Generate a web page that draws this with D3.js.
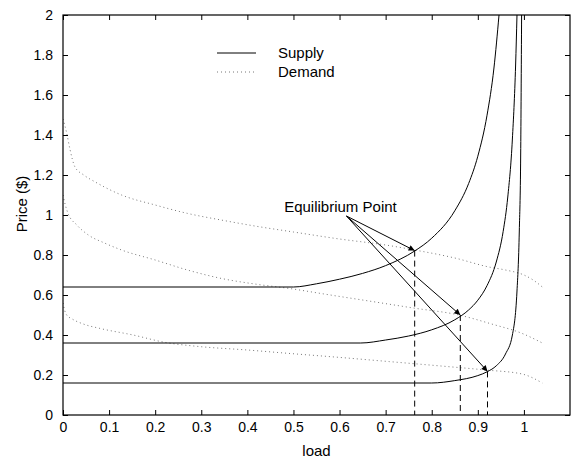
<!DOCTYPE html>
<html>
<head>
<meta charset="utf-8">
<script src="https://cdn.jsdelivr.net/npm/d3@7/dist/d3.min.js"></script>
<style>
  body { margin: 0; background: #fff; }
  svg { display: block; font-family: "Liberation Sans", Arial, sans-serif; }
</style>
</head>
<body>
<svg id="chart" width="575" height="460"></svg>
<script>
// supply curves: flat price, then blowing up near full load
const supplyHigh = [[0, 0.64], [0.5, 0.64], [0.55, 0.656], [0.6, 0.679], [0.65, 0.708], [0.7, 0.747],
  [0.763, 0.82], [0.8, 0.884], [0.85, 1.021], [0.88, 1.157], [0.9, 1.294], [0.92, 1.499], [0.935, 1.735], [0.946, 2.0]];
const supplyMid = [[0, 0.36], [0.646, 0.36], [0.7, 0.375], [0.75, 0.395], [0.8, 0.426], [0.85, 0.476],
  [0.88, 0.525], [0.9, 0.574], [0.92, 0.647], [0.94, 0.765], [0.955, 0.918], [0.965, 1.09], [0.975, 1.38],
  [0.982, 1.75], [0.985, 2.0]];
const supplyLow = [[0, 0.16], [0.8, 0.16], [0.85, 0.172], [0.9, 0.197], [0.921, 0.217], [0.94, 0.246],
  [0.96, 0.305], [0.975, 0.40], [0.985, 0.62], [0.99, 0.92], [0.993, 1.3], [0.995, 2.0]];

// demand curves (dotted)
const demandHigh = [[0, 1.48], [0.008, 1.41], [0.015, 1.33], [0.026, 1.24], [0.045, 1.20], [0.07, 1.165],
  [0.127, 1.10], [0.2, 1.05], [0.27, 1.008], [0.343, 0.975], [0.416, 0.945], [0.5, 0.915], [0.6, 0.88],
  [0.7, 0.85], [0.763, 0.825], [0.85, 0.785], [0.924, 0.74], [0.96, 0.725], [1.0, 0.70], [1.02, 0.675], [1.04, 0.64]];
const demandMid = [[0, 1.10], [0.005, 1.05], [0.011, 1.008], [0.03, 0.95], [0.055, 0.90], [0.09, 0.86],
  [0.127, 0.825], [0.2, 0.775], [0.27, 0.725], [0.343, 0.683], [0.416, 0.655], [0.49, 0.633], [0.58, 0.60],
  [0.672, 0.567], [0.76, 0.535], [0.859, 0.50], [0.93, 0.455], [0.996, 0.408], [1.04, 0.36]];
const demandLow = [[0, 0.56], [0.004, 0.52], [0.008, 0.50], [0.02, 0.48], [0.044, 0.455], [0.08, 0.433],
  [0.152, 0.40], [0.224, 0.362], [0.297, 0.342], [0.4, 0.325], [0.49, 0.308], [0.6, 0.288], [0.708, 0.267],
  [0.82, 0.245], [0.917, 0.225], [0.996, 0.205], [1.04, 0.16]];

const eqLoad = [0.763, 0.862, 0.921];
const eqPrice = [0.822, 0.50, 0.218];
const eqLabel = "Equilibrium Point";
const eqFrom = [0.615, 0.995];   // where the arrows start (load, price)

const xTicks = [0, 0.1, 0.2, 0.3, 0.4, 0.5, 0.6, 0.7, 0.8, 0.9, 1];
const yTicks = [0, 0.2, 0.4, 0.6, 0.8, 1, 1.2, 1.4, 1.6, 1.8, 2];
const xLabel = "load";
const yLabel = "Price ($)";
const legendNames = ["Supply", "Demand"];

const svg = d3.select("#chart");
const margin = { left: 63, right: 5, top: 15, bottom: 45 };
const W = 575, H = 460;

const x = d3.scaleLinear().domain([0, 1.1]).range([margin.left, W - margin.right]);
const y = d3.scaleLinear().domain([0, 2]).range([H - margin.bottom, margin.top]);

svg.append("rect").attr("width", W).attr("height", H).attr("fill", "#fff");

svg.append("defs").append("clipPath").attr("id", "plot")
  .append("rect")
  .attr("x", x(0)).attr("y", y(2))
  .attr("width", x(1.1) - x(0)).attr("height", y(0) - y(2));

svg.append("defs").append("marker")
  .attr("id", "arrow")
  .attr("viewBox", "0 0 10 10")
  .attr("refX", 10).attr("refY", 5)
  .attr("markerWidth", 9).attr("markerHeight", 6)
  .attr("markerUnits", "userSpaceOnUse")
  .attr("orient", "auto")
  .append("path").attr("d", "M0,0 L10,5 L0,10 Z").attr("fill", "#000");

const line = d3.line().x(d => x(d[0])).y(d => y(d[1])).curve(d3.curveMonotoneX);
const plot = svg.append("g").attr("clip-path", "url(#plot)");

[demandHigh, demandMid, demandLow].forEach(pts => {
  plot.append("path").attr("d", line(pts))
    .attr("fill", "none").attr("stroke", "#777").attr("stroke-width", 1)
    .attr("stroke-dasharray", "1,3");
});

[supplyHigh, supplyMid, supplyLow].forEach(pts => {
  plot.append("path").attr("d", line(pts))
    .attr("fill", "none").attr("stroke", "#000").attr("stroke-width", 1);
});

// dashed drop lines
eqLoad.forEach((l, i) => {
  svg.append("line")
    .attr("x1", x(l)).attr("x2", x(l))
    .attr("y1", y(eqPrice[i])).attr("y2", y(0))
    .attr("stroke", "#000").attr("stroke-width", 1).attr("stroke-dasharray", "6,4");
});

// arrows
eqLoad.forEach((l, i) => {
  svg.append("line")
    .attr("x1", x(eqFrom[0])).attr("y1", y(eqFrom[1]))
    .attr("x2", x(l)).attr("y2", y(eqPrice[i]))
    .attr("stroke", "#000").attr("stroke-width", 1)
    .attr("marker-end", "url(#arrow)");
});

svg.append("text")
  .attr("x", x(eqFrom[0]) - 6).attr("y", y(eqFrom[1]) - 4)
  .attr("text-anchor", "middle").attr("font-size", 15)
  .text(eqLabel);

// axes, ticks inward on all four sides
const xAxis = svg.append("g").attr("transform", `translate(0,${y(0)})`)
  .call(d3.axisBottom(x).tickValues(xTicks).tickFormat(d3.format("~g"))
    .tickSizeInner(-5).tickSizeOuter(0).tickPadding(7));
const xTop = svg.append("g").attr("transform", `translate(0,${y(2)})`)
  .call(d3.axisTop(x).tickValues(xTicks).tickFormat("").tickSizeInner(-5).tickSizeOuter(0));
const yAxis = svg.append("g").attr("transform", `translate(${x(0)},0)`)
  .call(d3.axisLeft(y).tickValues(yTicks).tickFormat(d3.format("~g"))
    .tickSizeInner(-5).tickSizeOuter(0).tickPadding(10));
const yRight = svg.append("g").attr("transform", `translate(${x(1.1)},0)`)
  .call(d3.axisRight(y).tickValues(yTicks).tickFormat("").tickSizeInner(-5).tickSizeOuter(0));

[xAxis, xTop, yAxis, yRight].forEach(g => {
  g.select(".domain").remove();
  g.selectAll("line").attr("stroke", "#000");
  g.selectAll("text").attr("font-size", 14).attr("fill", "#000")
    .attr("font-family", "\"Liberation Sans\", Arial, sans-serif");
});

svg.append("rect")
  .attr("x", x(0)).attr("y", y(2))
  .attr("width", x(1.1) - x(0)).attr("height", y(0) - y(2))
  .attr("fill", "none").attr("stroke", "#000").attr("stroke-width", 1.2);

svg.append("text")
  .attr("x", (x(0) + x(1.1)) / 2).attr("y", 456)
  .attr("text-anchor", "middle").attr("font-size", 15)
  .text(xLabel);

svg.append("text")
  .attr("transform", "translate(27,204) rotate(-90)")
  .attr("text-anchor", "middle").attr("font-size", 15)
  .text(yLabel);

// legend
const legend = svg.append("g");
legendNames.forEach((name, i) => {
  const ly = 53 + i * 19;
  legend.append("line")
    .attr("x1", 217).attr("x2", 256).attr("y1", ly).attr("y2", ly)
    .attr("stroke", i === 0 ? "#000" : "#777").attr("stroke-width", 1)
    .attr("stroke-dasharray", i === 0 ? null : "1,3");
  legend.append("text")
    .attr("x", 278).attr("y", ly + 5).attr("font-size", 15)
    .text(name);
});
</script>
</body>
</html>
